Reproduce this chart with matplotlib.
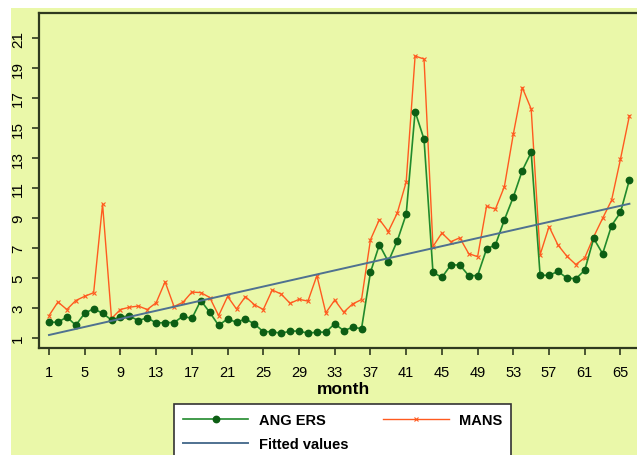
import numpy as np
import matplotlib
matplotlib.use("Agg")
import matplotlib.pyplot as plt
from matplotlib.patches import Rectangle

plt.rcParams['font.family'] = ['Liberation Sans', 'DejaVu Sans']

# data
months = list(range(1, 67))
ang_ers = [2.05, 2.05, 2.4, 1.85, 2.65, 2.95, 2.65, 2.2, 2.4, 2.47,
           2.16, 2.35, 2.0, 2.03, 2.03, 2.45, 2.3, 3.5, 2.71, 1.84,
           2.28, 2.04, 2.28, 1.93, 1.42, 1.42, 1.31, 1.46, 1.46, 1.32,
           1.39, 1.39, 1.95, 1.49, 1.71, 1.63, 5.38, 7.22, 6.09, 7.47,
           9.25, 16.1, 14.25, 5.38, 5.04, 5.87, 5.87, 5.16, 5.16, 6.93,
           7.22, 8.88, 10.4, 12.16, 13.38, 5.18, 5.18, 5.44, 5.0, 4.95,
           5.52, 7.64, 6.62, 8.49, 9.38, 11.55]
mans = [2.49, 3.4, 2.9, 3.5, 3.78, 4.02, 9.93, 2.3, 2.9, 3.05,
        3.13, 2.9, 3.35, 4.75, 3.1, 3.38, 4.06, 4.03, 3.7, 2.49,
        3.77, 2.93, 3.76, 3.22, 2.9, 4.2, 3.93, 3.31, 3.58, 3.46,
        5.16, 2.68, 3.53, 2.72, 3.27, 3.56, 7.55, 8.9, 8.1, 9.33,
        11.4, 19.8, 19.6, 7.1, 8.0, 7.42, 7.68, 6.63, 6.42, 9.78,
        9.6, 11.1, 14.6, 17.7, 16.27, 6.55, 8.43, 7.2, 6.45, 5.9,
        6.35, 7.75, 8.98, 10.18, 12.93, 15.82]
fit_months = [1, 66]
fit_values = [1.2, 9.95]

x_ticks = list(range(1, 67, 4))
y_ticks = list(range(1, 22, 2))

bg = '#eaf8a9'
W, H = 637, 456
fig = plt.figure(figsize=(W / 100, H / 100), dpi=100, facecolor='white')
fig.patches.append(Rectangle((11 / W, 0), 1, (H - 9) / H, transform=fig.transFigure,
                             facecolor=bg, edgecolor='none', zorder=-10))

ax = fig.add_axes([39 / W, (H - 349) / H, (W - 39) / W, (349 - 14) / H])
ax.set_facecolor(bg)

l1, = ax.plot(months, ang_ers, color='#218a2c', lw=1.2, marker='o', ms=4.6,
              mfc='#0d5e14', mec='#0d5e14', label='ANG ERS', zorder=3)
l2, = ax.plot(months, mans, color='#ff5a1f', lw=1.0, marker='x', ms=3.2, mew=0.8,
              label='MANS', zorder=2)
l3, = ax.plot(fit_months, fit_values, color='#4f7190', lw=1.4, label='Fitted values', zorder=4)

ax.set_xlim(-0.12, 66.85)
ax.set_ylim(0.333, 22.67)
ax.set_xticks(x_ticks)
ax.set_yticks(y_ticks)
ax.tick_params(axis='x', length=5, width=1.2, pad=7, labelsize=10.5, color='#2f3a1f')
ax.tick_params(axis='y', length=5, width=1.2, pad=5, labelsize=11, color='#2f3a1f',
               labelrotation=90)
for lab in ax.get_yticklabels():
    lab.set_verticalalignment('center')

for side in ['left', 'top', 'bottom']:
    ax.spines[side].set_color('#2f3a1f')
    ax.spines[side].set_linewidth(1.6)
ax.spines['right'].set_visible(False)

fig.text(343 / W, 1 - 389 / H, 'month', ha='center', va='center',
         fontsize=12.5, fontweight='bold')

leg = fig.legend(handles=[l1, l3, l2], ncol=2, loc='upper left',
                 bbox_to_anchor=(174 / W, 1 - 405 / H), frameon=True,
                 fancybox=False, framealpha=1, prop={'weight': 'bold', 'size': 10.5},
                 handlelength=4.5, handletextpad=0.7, columnspacing=2.4,
                 labelspacing=0.7, borderpad=0.6, borderaxespad=0)
leg.get_frame().set_edgecolor('#333333')
leg.get_frame().set_linewidth(1.2)
leg.get_frame().set_facecolor('white')

fig.savefig('out.png', dpi=100, facecolor=fig.get_facecolor())
